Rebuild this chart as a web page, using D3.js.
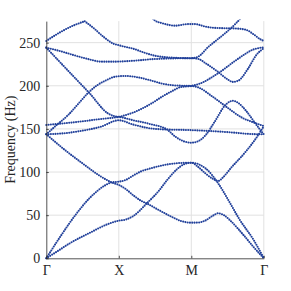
<!DOCTYPE html>
<html>
<head>
<meta charset="utf-8">
<script src="https://cdn.jsdelivr.net/npm/d3@7"></script>
<style>
  body { margin: 0; background: #fff; }
  svg { display: block; }
</style>
</head>
<body>
<svg width="291" height="291"></svg>
<script>
// path through the zone: Γ - X - M - Γ, one unit per segment
var kTicks = [0, 1, 2, 3];
var kLabels = ["Γ", "X", "M", "Γ"];
var yTicks = [0, 50, 100, 150, 200, 250];

// bands, [k, frequency in Hz]
var bandA = [[0,0],[0.15,8],[0.33,17.7],[0.6,29.5],[0.83,39],[1,43.6],[1.1,45],[1.2,49],[1.39,64],[1.55,78],[1.67,91],[1.8,103],[1.9,109],[2,110.8],[2.2,104],[2.37,87],[2.51,67.6],[2.67,44.4],[2.86,21.2],[3,0]];
var bandB = [[0,0],[0.2,26],[0.4,50],[0.6,70],[0.8,84],[0.9,88],[1,88.8],[1.1,91],[1.2,96],[1.3,100.5],[1.45,104.5],[1.65,108.5],[1.85,110.5],[2,110.8],[2.1,105.5],[2.2,98],[2.3,92],[2.37,89.6],[2.45,95],[2.55,105],[2.74,122.5],[2.9,140],[3,153]];
var bandC = [[0,143.8],[0.25,126],[0.5,110],[0.75,95],[0.9,88],[1,85],[1.1,80],[1.2,73],[1.3,67],[1.4,63],[1.55,56],[1.72,48.5],[1.85,43.5],[2,41.3],[2.1,41.5],[2.19,43.6],[2.3,49.5],[2.37,52.2],[2.45,50],[2.53,44.4],[2.72,27],[2.86,13],[3,0]];
var bandD = [[0,143.8],[0.25,145],[0.5,148],[0.75,152.5],[1,160],[1.2,155],[1.43,150.7],[1.6,149.5],[2,148.6],[2.5,146.3],[2.85,144],[3,143.8]];
var bandE = [[0,154.6],[0.25,156.5],[0.5,158.8],[0.75,161.5],[1,164],[1.2,169],[1.44,179],[1.6,187.5],[1.75,194.5],[1.85,198.5],[2,199.8],[2.1,202],[2.39,215.7],[2.64,231],[2.87,242.5],[3,244.5]];
var bandF = [[0,143.8],[0.15,155],[0.3,166],[0.45,180],[0.58,192],[0.7,200.5],[0.83,206.5],[0.95,210.5],[1.1,211.4],[1.25,210],[1.45,206],[1.6,202.5],[1.8,200.3],[2,199.8],[2.1,198],[2.28,188.2],[2.5,174.6],[2.7,163],[2.87,157.2],[3,153.4]];
var bandG = [[0,244.2],[0.3,217.5],[0.6,191],[0.85,168],[0.95,164.5],[1,164],[1.2,160],[1.43,155.7],[1.67,149],[1.78,141],[1.9,135.5],[2,134],[2.1,136],[2.2,143],[2.32,158],[2.48,178.6],[2.575,182.6],[2.65,180],[2.755,171],[2.87,158],[2.94,150],[3,143.8]];
var bandH = [[0,244.2],[0.2,240],[0.4,235],[0.6,230.5],[0.75,228],[0.93,228],[1.2,229],[1.49,231],[2,232],[2.1,231],[2.2,226],[2.37,216],[2.5,207.5],[2.57,204.5],[2.65,206],[2.78,219.5],[2.9,236],[3,243.5]];
var bandI1 = [[0,252],[0.19,262],[0.37,269.7],[0.53,274.8]];
var bandI2 = [[0.53,274.8],[0.65,267],[0.8,256],[0.92,249],[1,247],[1.21,242.7],[1.35,238.5],[1.49,235],[1.67,233],[2,232],[2.09,233.5],[2.23,244.7],[2.37,254.3],[2.51,264],[2.63,273.6],[2.7,280]];
var bandJ = [[1.45,280],[1.5,275.5],[1.6,272.5],[1.78,269.7],[1.95,271.5],[2.05,271.5],[2.2,268.5],[2.35,267],[2.6,266.5],[2.75,265],[2.87,259],[2.95,254],[3,252]];

var bands = [bandA, bandB, bandC, bandD, bandE, bandF, bandG, bandH, bandI1, bandI2, bandJ];

var svg = d3.select("svg");
svg.append("rect").attr("width", 291).attr("height", 291).attr("fill", "#fff");

var x = d3.scaleLinear().domain([0, 3]).range([46.3, 263.8]);
var y = d3.scaleLinear().domain([0, 275]).range([258.3, 21.1]);

// grid
svg.append("g").selectAll("line").data(yTicks.slice(1)).enter().append("line")
    .attr("x1", x(0)).attr("x2", x(3))
    .attr("y1", function(d){ return y(d); }).attr("y2", function(d){ return y(d); })
    .attr("stroke", "#e1e1e1").attr("stroke-width", 1);
svg.append("g").selectAll("line").data(kTicks.slice(1)).enter().append("line")
    .attr("x1", function(d){ return x(d); }).attr("x2", function(d){ return x(d); })
    .attr("y1", y(0)).attr("y2", y(275))
    .attr("stroke", "#e1e1e1").attr("stroke-width", 1);

// bands drawn as dots
svg.append("clipPath").attr("id", "plotclip")
    .append("rect").attr("x", 40).attr("y", 19.5).attr("width", 232).attr("height", 244);

var line = d3.line()
    .x(function(d){ return x(d[0]); })
    .y(function(d){ return y(d[1]); })
    .curve(d3.curveMonotoneX);

svg.append("g").attr("clip-path", "url(#plotclip)")
    .selectAll("path").data(bands).enter().append("path")
    .attr("d", line)
    .attr("fill", "none")
    .attr("stroke", "#21409a")
    .attr("stroke-width", 2.1)
    .attr("stroke-linecap", "round")
    .attr("stroke-dasharray", "0 2.3");

// axes
var yAxis = d3.axisLeft(y).tickValues(yTicks).tickSize(-2.5).tickSizeOuter(0).tickPadding(6);
var xAxis = d3.axisBottom(x).tickValues(kTicks)
    .tickFormat(function(d, i){ return kLabels[i]; })
    .tickSize(-2.5).tickSizeOuter(0).tickPadding(7);

var gy = svg.append("g").attr("transform", "translate(" + x(0) + ",0)").call(yAxis);
var gx = svg.append("g").attr("transform", "translate(0," + y(0) + ")").call(xAxis);

[gx, gy].forEach(function(g){
    g.selectAll("path, line").attr("stroke", "#262626").attr("stroke-width", 0.8);
    g.selectAll("text").attr("fill", "#262626")
        .style("font-family", "'Liberation Serif', 'Times New Roman', serif")
        .style("font-size", "14px");
});

svg.append("text")
    .attr("transform", "translate(15," + ((y(0) + y(275)) / 2) + ") rotate(-90)")
    .attr("text-anchor", "middle")
    .attr("fill", "#262626")
    .style("font-family", "'Liberation Serif', 'Times New Roman', serif")
    .style("font-size", "14px")
    .text("Frequency (Hz)");
</script>
</body>
</html>
